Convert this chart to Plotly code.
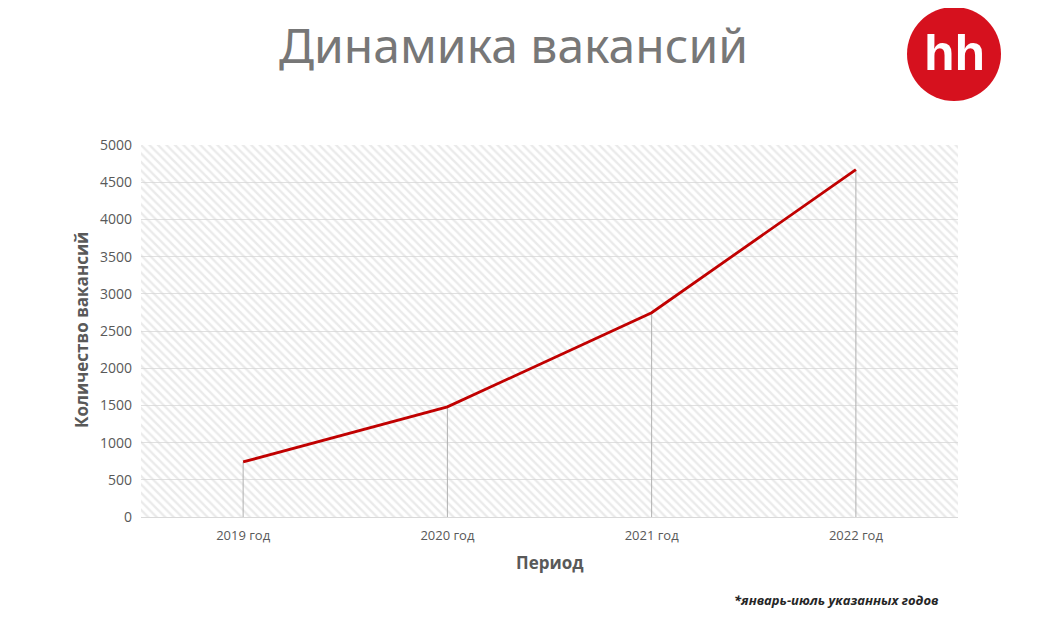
import plotly.graph_objects as go

# ---- data ----
categories = ["2019 год", "2020 год", "2021 год", "2022 год"]
vacancies = [740, 1480, 2745, 4670]
y_ticks = list(range(0, 5001, 500))

title_text = "Динамика вакансий"
y_title = "Количество вакансий"
x_title = "Период"
footnote = "*январь-июль указанных годов"

W, H = 1048, 640
OFF = 8  # page offset of the figure inside the browser window
# desired plot area in window pixels
PX0, PX1, PY0, PY1 = 141, 958, 145, 517
L, T = PX0 - OFF, PY0 - OFF
R, B = W + OFF - PX1, H + OFF - PY1
PW, PH = PX1 - PX0, PY1 - PY0


def px2x(px):
    return (px - PX0) / PW


def py2y(py):
    return (PY1 - py) / PH


fig = go.Figure()

# hatched plot background
fig.add_trace(go.Bar(
    x=[categories[0]], y=[y_ticks[-1]], width=[len(categories)], offset=-0.5,
    marker=dict(color="rgba(0,0,0,0)", line=dict(width=0),
                pattern=dict(shape="\\", fgcolor="#d6d6d6", bgcolor="rgba(0,0,0,0)",
                             size=6, solidity=0.4)),
    hoverinfo="skip", showlegend=False,
))

# drop lines
fig.add_trace(go.Scatter(
    x=categories, y=vacancies, mode="markers",
    marker=dict(size=1, opacity=0),
    error_y=dict(type="data", symmetric=False, array=[0] * len(vacancies),
                 arrayminus=vacancies, width=0, thickness=1, color="#b0b0b0"),
    hoverinfo="skip", showlegend=False,
))

# main line
fig.add_trace(go.Scatter(
    x=categories, y=vacancies, mode="lines",
    line=dict(color="#c00000", width=2.8),
    showlegend=False,
))

fig.update_layout(
    width=W, height=H,
    margin=dict(l=L, r=R, t=T, b=B),
    paper_bgcolor="white", plot_bgcolor="white",
    font=dict(family="Open Sans", color="#595959"),
    bargap=0,
    xaxis=dict(type="category", range=[-0.5, len(categories) - 0.5],
               showgrid=False, showline=True, linecolor="#d9d9d9", linewidth=1,
               ticks="", tickfont=dict(size=13, color="#595959"),
               ticklabelstandoff=6, fixedrange=True),
    yaxis=dict(range=[0, y_ticks[-1]], tickvals=y_ticks, showgrid=True,
               gridcolor="#e0e0e0", gridwidth=1, zeroline=False, showline=False,
               ticks="", tickfont=dict(size=14, color="#595959"),
               ticklabelstandoff=8, fixedrange=True),
    shapes=[dict(type="circle", xref="paper", yref="paper",
                 x0=px2x(907), x1=px2x(1001), y0=py2y(101), y1=py2y(7),
                 fillcolor="#d6111e", line=dict(width=0), layer="above")],
    annotations=[
        dict(text=title_text, xref="paper", yref="paper", x=px2x(513), y=py2y(44),
             xanchor="center", yanchor="middle", showarrow=False,
             font=dict(size=48, color="#777777", family="Noto Sans")),
        dict(text="<b>hh</b>", xref="paper", yref="paper", x=px2x(954), y=py2y(53),
             xanchor="center", yanchor="middle", showarrow=False,
             font=dict(size=50, color="white", family="Liberation Sans")),
        dict(text="<b>" + y_title + "</b>", xref="paper", yref="paper",
             x=px2x(81), y=py2y(330), xanchor="center", yanchor="middle",
             textangle=-90, showarrow=False,
             font=dict(size=17, color="#595959", family="Open Sans")),
        dict(text="<b>" + x_title + "</b>", xref="paper", yref="paper",
             x=px2x(550), y=py2y(562), xanchor="center", yanchor="middle",
             showarrow=False, font=dict(size=17, color="#595959", family="Open Sans")),
        dict(text="<b><i>" + footnote + "</i></b>", xref="paper", yref="paper",
             x=px2x(941), y=py2y(600), xanchor="right", yanchor="middle",
             showarrow=False, font=dict(size=13, color="#262626", family="Open Sans")),
    ],
)

fig.write_html("out.html")
